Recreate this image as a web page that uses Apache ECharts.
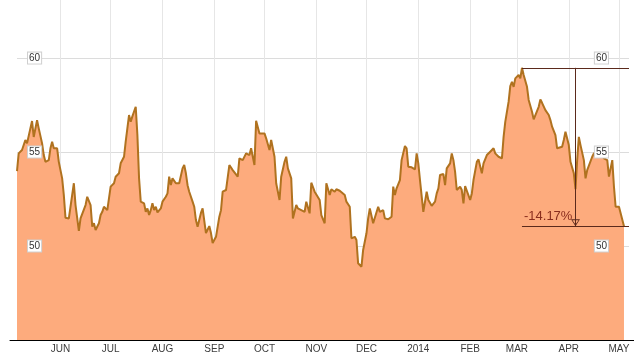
<!DOCTYPE html>
<html>
<head>
<meta charset="utf-8">
<script src="https://cdn.jsdelivr.net/npm/echarts@6/dist/echarts.min.js"></script>
<style>
html,body{margin:0;padding:0;background:#fff;}
#chart{width:634px;height:356px;}
</style>
</head>
<body>
<div id="chart"></div>
<script>
// ---- data ----
var dates = [
'2013-05-06','2013-05-07','2013-05-09','2013-05-11','2013-05-12','2013-05-14','2013-05-15','2013-05-16','2013-05-18','2013-05-19',
'2013-05-21','2013-05-22','2013-05-23','2013-05-25','2013-05-26','2013-05-27','2013-05-28','2013-05-30','2013-05-31','2013-06-02',
'2013-06-03','2013-06-04','2013-06-06','2013-06-07','2013-06-09','2013-06-10','2013-06-12','2013-06-13','2013-06-14','2013-06-16',
'2013-06-17','2013-06-19','2013-06-20','2013-06-21','2013-06-22','2013-06-24','2013-06-25','2013-06-26','2013-06-27','2013-06-29',
'2013-06-30','2013-07-01','2013-07-03','2013-07-04','2013-07-06','2013-07-07','2013-07-09','2013-07-10','2013-07-12','2013-07-13',
'2013-07-14','2013-07-16','2013-07-17','2013-07-18','2013-07-19','2013-07-21','2013-07-22','2013-07-23','2013-07-24','2013-07-25',
'2013-07-26','2013-07-27','2013-07-28','2013-07-29','2013-07-31','2013-08-01','2013-08-03','2013-08-04','2013-08-05','2013-08-06',
'2013-08-07','2013-08-09','2013-08-10','2013-08-11','2013-08-13','2013-08-14','2013-08-15','2013-08-16','2013-08-17','2013-08-19',
'2013-08-20','2013-08-21','2013-08-22','2013-08-24','2013-08-25','2013-08-27','2013-08-29','2013-08-30','2013-08-31','2013-09-02',
'2013-09-04','2013-09-05','2013-09-06','2013-09-08','2013-09-10','2013-09-12','2013-09-15','2013-09-16','2013-09-18','2013-09-20',
'2013-09-22','2013-09-23','2013-09-25','2013-09-26','2013-09-28','2013-09-29','2013-10-01','2013-10-02','2013-10-04','2013-10-05',
'2013-10-07','2013-10-08','2013-10-10','2013-10-11','2013-10-13','2013-10-14','2013-10-15','2013-10-17','2013-10-18','2013-10-20',
'2013-10-21','2013-10-23','2013-10-25','2013-10-26','2013-10-28','2013-10-29','2013-10-31','2013-11-01','2013-11-03','2013-11-04',
'2013-11-06','2013-11-07','2013-11-09','2013-11-10','2013-11-12','2013-11-13','2013-11-15','2013-11-16','2013-11-18','2013-11-19',
'2013-11-21','2013-11-22','2013-11-24','2013-11-25','2013-11-26','2013-11-28','2013-11-29','2013-12-01','2013-12-02','2013-12-03',
'2013-12-05','2013-12-08','2013-12-09','2013-12-11','2013-12-12','2013-12-14','2013-12-16','2013-12-17','2013-12-18','2013-12-19',
'2013-12-21','2013-12-22','2013-12-24','2013-12-25','2013-12-26','2013-12-28','2013-12-30','2013-12-31','2014-01-01','2014-01-02',
'2014-01-04','2014-01-06','2014-01-07','2014-01-09','2014-01-11','2014-01-12','2014-01-13','2014-01-14','2014-01-16','2014-01-17',
'2014-01-18','2014-01-20','2014-01-21','2014-01-22','2014-01-23','2014-01-24','2014-01-26','2014-01-27','2014-01-28','2014-01-29',
'2014-01-30','2014-02-01','2014-02-02','2014-02-03','2014-02-05','2014-02-06','2014-02-08','2014-02-09','2014-02-11','2014-02-12',
'2014-02-13','2014-02-15','2014-02-16','2014-02-17','2014-02-18','2014-02-20','2014-02-21','2014-02-22','2014-02-24','2014-02-25',
'2014-02-26','2014-02-27','2014-02-28','2014-03-02','2014-03-03','2014-03-04','2014-03-05','2014-03-07','2014-03-08','2014-03-10',
'2014-03-11','2014-03-12','2014-03-14','2014-03-15','2014-03-16','2014-03-18','2014-03-20','2014-03-21','2014-03-22','2014-03-24',
'2014-03-25','2014-03-26','2014-03-28','2014-03-29','2014-03-30','2014-04-01','2014-04-02','2014-04-04','2014-04-05','2014-04-06',
'2014-04-07','2014-04-08','2014-04-10','2014-04-11','2014-04-12','2014-04-13','2014-04-15','2014-04-16','2014-04-19','2014-04-21',
'2014-04-22','2014-04-24','2014-04-25','2014-04-27','2014-04-28','2014-04-29','2014-05-01','2014-05-02','2014-05-04'
];
var prices = [
53.99,54.93,55.11,55.64,55.46,56.26,56.65,55.80,56.70,56.26,
55.46,54.84,54.48,54.57,55.20,55.55,55.20,55.20,54.48,53.60,
52.71,51.50,51.47,51.56,53.34,52.18,50.80,51.47,51.38,52.18,
52.62,52.18,51.03,51.21,50.85,51.21,51.65,51.82,52.09,51.91,
52.54,53.16,53.34,53.69,53.87,54.40,54.75,55.55,56.97,56.61,
56.90,57.41,55.90,53.60,52.36,52.27,51.82,52.00,51.65,51.91,
52.27,51.91,52.09,51.79,52.00,52.36,52.62,52.80,53.69,53.24,
53.60,53.34,53.42,53.34,54.13,54.31,53.87,53.24,52.89,52.36,
52.09,51.38,51.03,51.76,52.00,50.69,51.06,50.69,50.16,50.49,
51.56,51.91,52.89,52.98,54.31,54.04,53.69,54.66,54.57,54.93,
54.84,55.20,54.31,56.66,55.99,55.90,55.99,55.73,55.11,55.64,
54.75,53.34,52.45,53.69,54.48,54.75,54.13,53.60,51.47,52.18,
52.00,51.91,51.82,52.36,51.74,53.37,52.89,52.80,52.45,51.65,
51.21,53.34,52.71,53.02,52.89,53.02,52.94,52.98,52.71,52.36,
52.09,50.41,50.49,50.32,49.08,48.90,49.79,50.68,51.47,52.00,
51.21,52.09,51.82,51.91,51.47,51.42,51.56,53.16,52.71,53.07,
53.51,54.57,55.32,55.20,54.22,54.19,54.08,54.93,54.40,53.51,
51.82,52.89,52.45,52.14,52.36,52.80,53.07,53.78,53.83,53.24,
54.13,54.40,54.93,54.57,53.95,52.98,53.16,52.98,52.27,53.19,
53.19,52.45,52.80,53.51,54.48,54.61,53.87,54.40,54.84,54.84,
55.02,55.20,54.93,55.02,54.75,54.66,55.81,56.61,57.68,58.51,
58.74,58.47,58.92,59.10,58.92,59.48,59.10,58.47,57.77,57.14,
56.74,56.74,57.41,57.80,57.62,57.23,56.97,56.70,56.35,55.90,
55.20,55.20,55.28,55.64,56.08,55.37,54.48,53.87,53.02,54.57,
55.81,55.37,54.57,53.60,54.04,54.04,54.75,54.93,54.95,54.84,
54.66,54.57,53.69,54.57,53.16,52.09,52.09,52.09,51.05
];
var monthNames = ['2014','FEB','MAR','APR','MAY','JUN','JUL','AUG','SEP','OCT','NOV','DEC'];
var axisStart = '2013-05-06';
var axisEnd = '2014-05-07';
var yMin = 45, yMax = 63.09, yStep = 5;

// ---- derived ----
var seriesData = dates.map(function (d, i) { return [d, prices[i]]; });
var maxIdx = 0;
prices.forEach(function (v, i) { if (v > prices[maxIdx]) maxIdx = i; });
var maxVal = prices[maxIdx];
var lastVal = prices[prices.length - 1];
var peakT = +new Date(dates[maxIdx]);
var endT = +new Date(axisEnd);
var midT = (peakT + endT) / 2;
var pctText = ((lastVal - maxVal) / maxVal * 100).toFixed(2) + '%';

var FONT = '"Liberation Sans", Arial, sans-serif';
function yLabel(margin) {
  return {
    inside: true,
    margin: margin,
    fontFamily: FONT,
    fontSize: 10,
    color: '#333',
    backgroundColor: '#fff',
    borderColor: '#cfcfcf',
    borderWidth: 1,
    padding: [1, 1, 0, 1],
    showMinLabel: false,
    showMaxLabel: false,
    formatter: function (v) { return (v % 5 === 0 && v > yMin) ? String(v) : ''; }
  };
}
function yAxisBase(pos) {
  return {
    type: 'value', min: yMin, max: yMax, interval: yStep, position: pos,
    axisLine: { show: false }, axisTick: { show: false }
  };
}

var chart = echarts.init(document.getElementById('chart'), null, { renderer: 'canvas' });
chart.setOption({
  animation: false,
  backgroundColor: '#fff',
  grid: [
    { left: 17, right: 5, top: 0, bottom: 16, containLabel: false },
    { left: 10, right: 0, top: 0, bottom: 16, containLabel: false }
  ],
  xAxis: [{
    type: 'time',
    gridIndex: 0,
    min: axisStart,
    max: axisEnd,
    splitNumber: 12,
    minInterval: 28 * 86400000,
    maxInterval: 31 * 86400000,
    axisLine: { show: false },
    axisTick: { show: false },
    axisLabel: {
      fontFamily: FONT, fontSize: 10, color: '#3c3c3c', margin: 4,
      showMinLabel: false, showMaxLabel: false,
      formatter: function (v) { return monthNames[new Date(v).getMonth()]; }
    },
    splitLine: { show: true, showMinLine: false, showMaxLine: false,
                 lineStyle: { color: '#e6e6e6', width: 1 } }
  }, {
    type: 'value',
    gridIndex: 1,
    z: 10,
    axisLine: { show: true, onZero: false, lineStyle: { color: '#000', width: 1 } },
    axisTick: { show: false },
    axisLabel: { show: false },
    splitLine: { show: false }
  }],
  yAxis: [
    Object.assign(yAxisBase('left'), {
      gridIndex: 0,
      axisLabel: { show: false },
      splitLine: { show: true, showMinLine: false, showMaxLine: false,
                   lineStyle: { color: '#dcdcdc', width: 1 } }
    }),
    Object.assign(yAxisBase('left'), {
      gridIndex: 0, z: 10, axisLabel: yLabel(11), splitLine: { show: false }
    }),
    Object.assign(yAxisBase('right'), {
      gridIndex: 0, z: 10, axisLabel: yLabel(21), splitLine: { show: false }
    }),
    {
      type: 'value', gridIndex: 1, show: false
    }
  ],
  series: [{
    type: 'line',
    xAxisIndex: 0,
    yAxisIndex: 0,
    data: seriesData,
    showSymbol: false,
    symbol: 'none',
    lineStyle: { color: '#b0721f', width: 2 },
    areaStyle: { color: '#fdab7d', opacity: 1, origin: 'start' },
    markLine: {
      silent: true,
      animation: false,
      symbol: 'none',
      lineStyle: { color: '#5b2a1c', width: 1, type: 'solid' },
      label: { show: false },
      emphasis: { disabled: true },
      data: [
        [{ coord: [peakT, maxVal] }, { coord: [endT, maxVal] }],
        [{ coord: [peakT, lastVal],
           label: { show: true, position: 'insideStartTop', formatter: pctText,
                    fontFamily: FONT, fontSize: 13, color: '#8a2e1e', distance: [2, 3] } },
         { coord: [endT, lastVal] }],
        [{ coord: [midT, maxVal], symbol: 'none' },
         { coord: [midT, lastVal],
           symbol: 'path://M6 0L12 10L0 10Z M6 2.6L1.9 8.8L10.1 8.8Z',
           symbolSize: [9, 7], symbolOffset: [0, 3.5] }]
      ]
    }
  }]
});
</script>
</body>
</html>
